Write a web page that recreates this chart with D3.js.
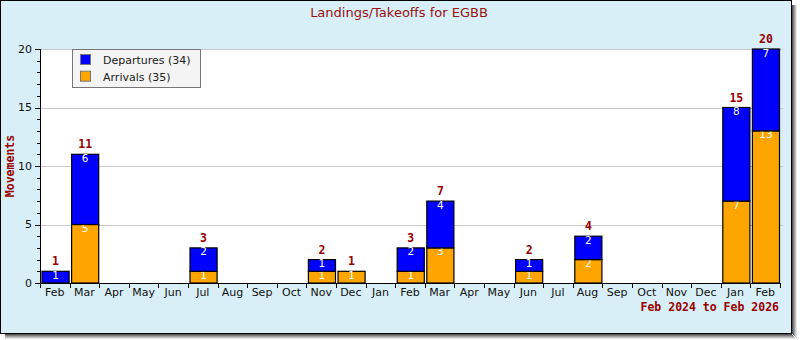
<!DOCTYPE html>
<html>
<head>
<meta charset="utf-8">
<script src="https://cdn.jsdelivr.net/npm/d3@7"></script>
<style>
  html, body { margin: 0; padding: 0; background: #ffffff; }
  svg { display: block; }
</style>
</head>
<body>
<svg id="chart" width="800" height="340"></svg>
<script>
// Monthly movements at EGBB, Feb 2024 through Feb 2026
const months = ["Feb","Mar","Apr","May","Jun","Jul","Aug","Sep","Oct","Nov","Dec","Jan",
                "Feb","Mar","Apr","May","Jun","Jul","Aug","Sep","Oct","Nov","Dec","Jan","Feb"];
const arrivals   = [0,5,0,0,0,1,0,0,0,1,1,0, 1,3,0,0,1,0,2,0,0,0,0,7,13];
const departures = [1,6,0,0,0,2,0,0,0,1,0,0, 2,4,0,0,1,0,2,0,0,0,0,8,7];
const yTicks = [0,5,10,15,20];
const seriesNames = ["Departures","Arrivals"];
const titleText = "Landings/Takeoffs for EGBB";
const rangeText = "Feb 2024 to Feb 2026";
const yTitle = "Movements";

const svg = d3.select("#chart");
const frameW = 791, frameH = 333;
const plot = { left: 40, right: 780, top: 49, bottom: 283 };
const darkRed = "#990000";
const monoBold = "'DejaVu Sans Mono', monospace";
const sans = "'DejaVu Sans', sans-serif";

// drop shadow along right and bottom of the frame
const shadeCols = ["#555","#7a7a7a","#9e9e9e","#c2c2c2","#e4e4e4"];
shadeCols.forEach((c, i) => {
  svg.append("line").attr("x1", frameW + 1.5 + i).attr("x2", frameW + 1.5 + i)
    .attr("y1", 5).attr("y2", frameH + 1 + i).attr("stroke", c);
  svg.append("line").attr("x1", 5).attr("x2", frameW + 1 + i)
    .attr("y1", frameH + 1.5 + i).attr("y2", frameH + 1.5 + i).attr("stroke", c);
});

// frame
svg.append("rect").attr("x", 0.5).attr("y", 0.5)
  .attr("width", frameW).attr("height", frameH)
  .attr("fill", "#d8eff8").attr("stroke", "#000");

// plot area
svg.append("rect").attr("x", plot.left).attr("y", plot.top)
  .attr("width", plot.right - plot.left).attr("height", plot.bottom - plot.top)
  .attr("fill", "#ffffff");

const x = d3.scaleBand().domain(d3.range(months.length))
  .range([plot.left, plot.right]).padding(0);
const y = d3.scaleLinear().domain([0, 20]).range([plot.bottom, plot.top]);

// gridlines
svg.append("g").selectAll("line").data(yTicks.filter(v => v > 0)).join("line")
  .attr("x1", plot.left).attr("x2", plot.right + 3)
  .attr("y1", d => Math.round(y(d)) + 0.5).attr("y2", d => Math.round(y(d)) + 0.5)
  .attr("stroke", "#c8c8c8");

// stacked bars
const stackData = months.map((m, i) => ({ i, Arrivals: arrivals[i], Departures: departures[i] }));
const stack = d3.stack().keys(["Arrivals","Departures"])(stackData);
const colors = { Arrivals: "#ffa500", Departures: "#0000ff" };
const bw = x.bandwidth();

stack.forEach(layer => {
  const g = svg.append("g");
  const segs = layer.filter(d => d[1] - d[0] > 0);
  g.selectAll("rect").data(segs).join("rect")
    .attr("x", d => x(d.data.i) + 2)
    .attr("width", bw - 2.5)
    .attr("y", d => y(d[1]))
    .attr("height", d => y(d[0]) - y(d[1]))
    .attr("fill", colors[layer.key])
    .attr("stroke", "#000").attr("stroke-width", 1.2);
  g.selectAll("text").data(segs).join("text")
    .attr("x", d => x(d.data.i) + 2 + (bw - 2.5) / 2)
    .attr("y", d => y(d[1]) + 7.5)
    .attr("text-anchor", "middle")
    .attr("font-family", sans).attr("font-size", "10.5px")
    .attr("fill", "#ffffff")
    .text(d => d[1] - d[0]);
});

// totals above bars
const totals = months.map((m, i) => ({ i, t: arrivals[i] + departures[i] }));
svg.append("g").selectAll("text").data(totals.filter(d => d.t > 0)).join("text")
  .attr("x", d => x(d.i) + 2 + (bw - 2.5) / 2)
  .attr("y", d => y(d.t) - 6)
  .attr("text-anchor", "middle")
  .attr("font-family", monoBold).attr("font-weight", "bold").attr("font-size", "11.5px")
  .attr("fill", darkRed)
  .text(d => d.t);

// y axis
const yAxis = svg.append("g");
yAxis.append("line").attr("x1", plot.left + 0.5).attr("x2", plot.left + 0.5)
  .attr("y1", plot.top).attr("y2", plot.bottom + 5).attr("stroke", "#000");
yAxis.selectAll(".minor").data(d3.range(0, 21)).join("line").attr("class", "minor")
  .attr("x1", d => yTicks.includes(d) ? plot.left - 5 : plot.left - 3).attr("x2", plot.left)
  .attr("y1", d => Math.round(y(d)) + 0.5).attr("y2", d => Math.round(y(d)) + 0.5)
  .attr("stroke", "#000");
yAxis.selectAll("text").data(yTicks).join("text")
  .attr("x", plot.left - 8).attr("y", d => y(d)).attr("dy", "0.36em")
  .attr("text-anchor", "end")
  .attr("font-family", sans).attr("font-size", "11px").attr("fill", "#111")
  .text(d => d);

// x axis
const xAxis = svg.append("g");
xAxis.append("line").attr("x1", plot.left).attr("x2", plot.right + 1)
  .attr("y1", plot.bottom + 0.5).attr("y2", plot.bottom + 0.5).attr("stroke", "#000");
xAxis.selectAll("line.tick").data(d3.range(months.length + 1)).join("line").attr("class", "tick")
  .attr("x1", d => Math.round(plot.left + d * bw) + 0.5)
  .attr("x2", d => Math.round(plot.left + d * bw) + 0.5)
  .attr("y1", plot.bottom).attr("y2", plot.bottom + 5)
  .attr("stroke", "#000");
xAxis.selectAll("text").data(months).join("text")
  .attr("x", (d, i) => x(i) + bw / 2).attr("y", 296)
  .attr("text-anchor", "middle")
  .attr("font-family", sans).attr("font-size", "11px").attr("fill", "#111")
  .text(d => d);

// titles
svg.append("text").attr("x", 399).attr("y", 17).attr("text-anchor", "middle")
  .attr("font-family", sans).attr("font-size", "13px").attr("fill", "#991111")
  .text(titleText);
svg.append("text").attr("x", 779).attr("y", 311).attr("text-anchor", "end")
  .attr("font-family", monoBold).attr("font-weight", "bold").attr("font-size", "11.5px")
  .attr("fill", darkRed).text(rangeText);
svg.append("text").attr("transform", "translate(14," + ((plot.top + plot.bottom) / 2) + ") rotate(-90)")
  .attr("text-anchor", "middle")
  .attr("font-family", monoBold).attr("font-weight", "bold").attr("font-size", "11.5px")
  .attr("fill", darkRed).text(yTitle);

// legend
const legend = svg.append("g");
legend.append("rect").attr("x", 72.5).attr("y", 49.5).attr("width", 128).attr("height", 38)
  .attr("fill", "#f4f4f4").attr("stroke", "#777");
const legendItems = [
  { name: seriesNames[0], color: colors.Departures, total: d3.sum(departures) },
  { name: seriesNames[1], color: colors.Arrivals, total: d3.sum(arrivals) }
];
legendItems.forEach((d, i) => {
  legend.append("rect").attr("x", 80.5).attr("y", 54.5 + i * 16.7).attr("width", 10).attr("height", 10)
    .attr("fill", d.color).attr("stroke", "#777");
  legend.append("text").attr("x", 103).attr("y", 64 + i * 16.7)
    .attr("font-family", sans).attr("font-size", "11px").attr("fill", "#222")
    .text(d.name + " (" + d.total + ")");
});
</script>
</body>
</html>
